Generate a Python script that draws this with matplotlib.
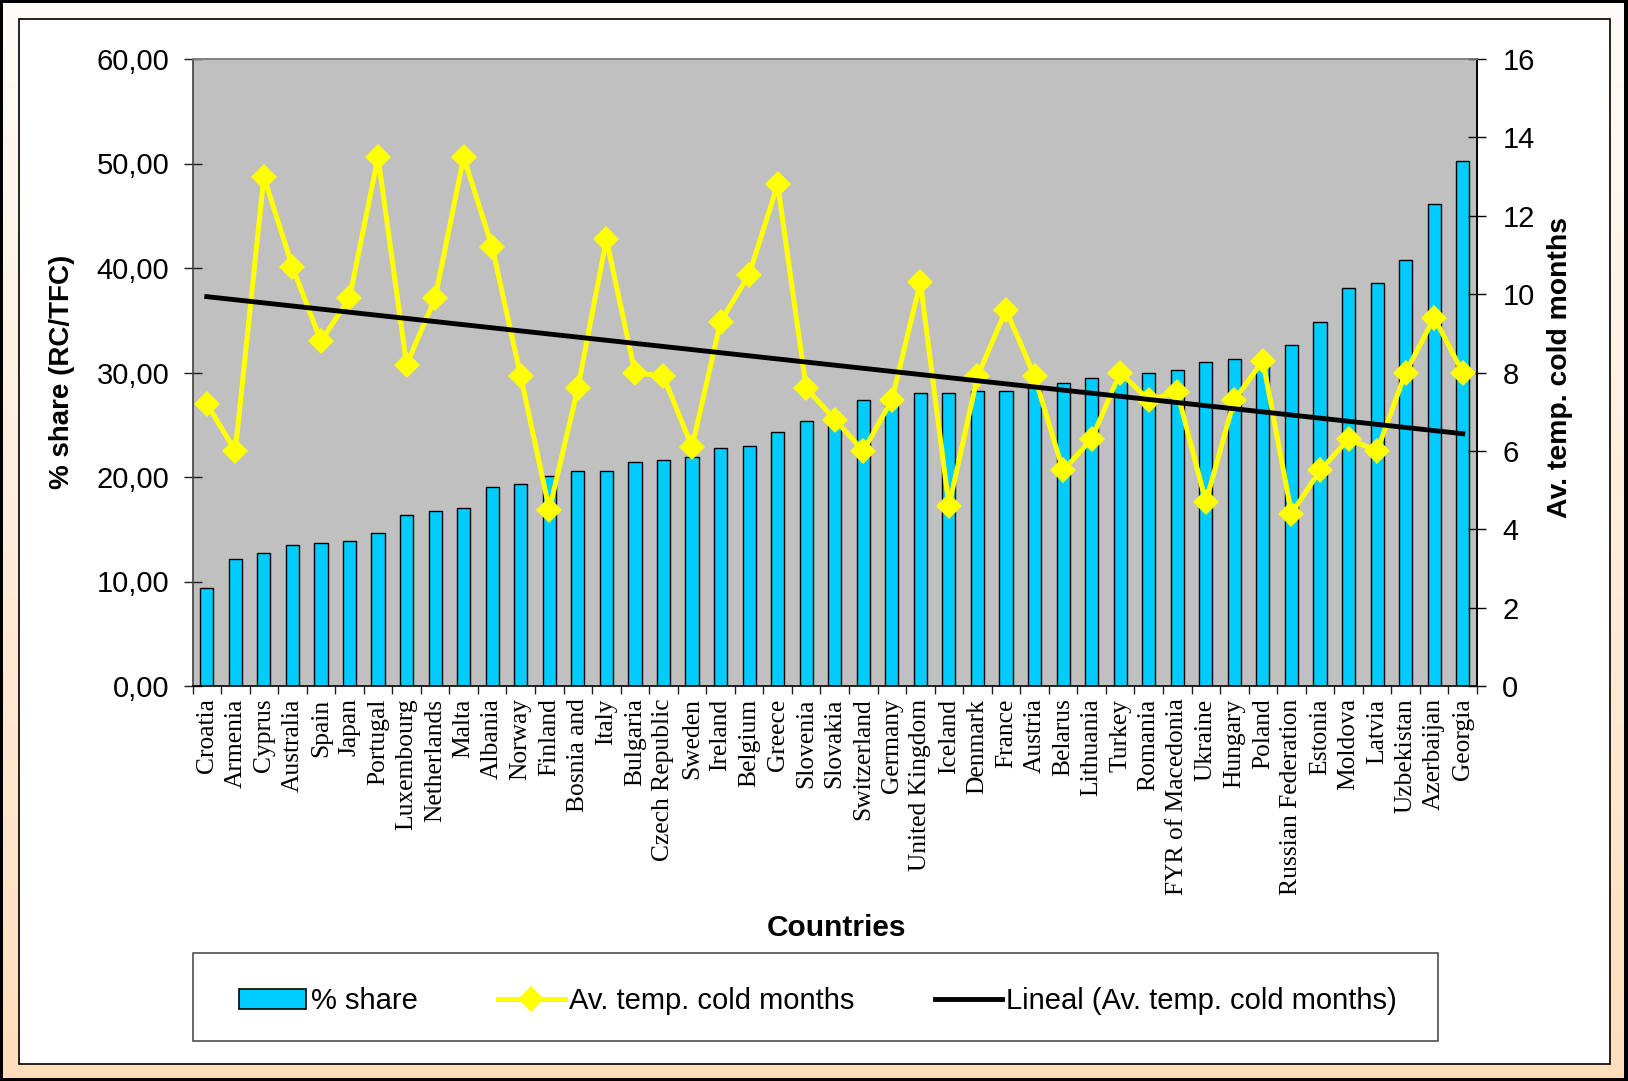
import numpy as np
import matplotlib
matplotlib.use("Agg")
import matplotlib.pyplot as plt
from matplotlib.patches import Rectangle, Patch
from matplotlib.lines import Line2D
from matplotlib.ticker import FuncFormatter

plt.rcParams['font.family'] = ['Liberation Sans', 'DejaVu Sans']

countries = ["Croatia", "Armenia", "Cyprus", "Australia", "Spain", "Japan", "Portugal",
             "Luxembourg", "Netherlands", "Malta", "Albania", "Norway", "Finland",
             "Bosnia and", "Italy", "Bulgaria", "Czech Republic", "Sweden", "Ireland",
             "Belgium", "Greece", "Slovenia", "Slovakia", "Switzerland", "Germany",
             "United Kingdom", "Iceland", "Denmark", "France", "Austria", "Belarus",
             "Lithuania", "Turkey", "Romania", "FYR of Macedonia", "Ukraine", "Hungary",
             "Poland", "Russian Federation", "Estonia", "Moldova", "Latvia", "Uzbekistan",
             "Azerbaijan", "Georgia"]

# residential consumption share of total final consumption (%)
share = [9.35, 12.2, 12.7, 13.5, 13.7, 13.9, 14.6,
         16.4, 16.7, 17.0, 19.0, 19.3, 20.1,
         20.6, 20.6, 21.4, 21.6, 21.9, 22.8,
         23.0, 24.3, 25.4, 26.0, 27.4, 27.8,
         28.0, 28.0, 28.2, 28.2, 28.6, 29.0,
         29.5, 29.8, 30.0, 30.2, 31.0, 31.3,
         31.6, 32.6, 34.8, 38.1, 38.6, 40.8,
         46.1, 50.2]

# average temperature of the cold months
temp = [7.2, 6.0, 13.0, 10.7, 8.8, 9.9, 13.5,
        8.2, 9.9, 13.5, 11.2, 7.9, 4.5,
        7.6, 11.4, 8.0, 7.9, 6.1, 9.3,
        10.5, 12.8, 7.6, 6.8, 6.0, 7.3,
        10.3, 4.6, 7.9, 9.6, 7.9, 5.5,
        6.3, 8.0, 7.3, 7.5, 4.7, 7.3,
        8.3, 4.4, 5.5, 6.3, 6.0, 8.0,
        9.4, 8.0]

share_ticks = [0, 10, 20, 30, 40, 50, 60]
temp_ticks = [0, 2, 4, 6, 8, 10, 12, 14, 16]

W, H = 1628, 1081
fig = plt.figure(figsize=(W / 100, H / 100), dpi=100)

# ---- frame: black border, peach gradient band, inner white panel ----
bg = fig.add_axes([0, 0, 1, 1], zorder=-10)
bg.set_axis_off()
bg.add_patch(Rectangle((0, 0), W, H, color='black', zorder=0))
g = np.linspace(0, 1, 256)[:, None, None]
top_c = np.array([1.0, 0.985, 0.97])
bot_c = np.array([1.0, 0.87, 0.74])
grad = top_c + (bot_c - top_c) * g
bg.imshow(grad, extent=(3, W - 4, H - 3, 3), aspect='auto', interpolation='bilinear',
          zorder=1)
bg.add_patch(Rectangle((18.5, 18.5), 1610 - 18.5, 1064 - 18.5,
                       facecolor='white', edgecolor='black', linewidth=1.2, zorder=2))
# legend box
bg.add_patch(Rectangle((192.5, 953), 1438 - 192.5, 1041 - 953,
                       facecolor='white', edgecolor='#404040', linewidth=1.1, zorder=3))
bg.set_xlim(0, W)
bg.set_ylim(H, 0)

# ---- main axes ----
L, R, T, B = 192.5, 1477, 59, 686
ax = fig.add_axes([L / W, 1 - B / H, (R - L) / W, (B - T) / H])
ax.set_facecolor('#C0C0C0')
x = np.arange(len(countries))
ax.bar(x, share, width=0.46, color='#00CCFF', edgecolor='black', linewidth=1.0, zorder=2)
ax.set_xlim(-0.5, len(countries) - 0.5)
ax.set_ylim(share_ticks[0], share_ticks[-1])
ax.set_yticks(share_ticks)
ax.yaxis.set_major_formatter(FuncFormatter(lambda v, _: f"{v:.2f}".replace('.', ',')))
ax.tick_params(axis='y', direction='inout', length=13.5, width=1.0, pad=10,
               labelsize=21, color='#202020')

ax.set_xticks(x)
ax.set_xticklabels(countries, rotation=90, fontfamily=['Liberation Serif', 'DejaVu Serif'],
                   fontsize=18.4, va='top', ha='center')
ax.tick_params(axis='x', which='major', length=0, pad=9)
ax.set_xticks(np.arange(-0.5, len(countries), 1), minor=True)
ax.tick_params(axis='x', which='minor', direction='out', length=6, width=1.0, color='#202020')

for side in ['left', 'right', 'bottom', 'top']:
    ax.spines[side].set_linewidth(1.2)
ax.spines['top'].set_color('#808080')
ax.spines['left'].set_color('#404040')
ax.spines['bottom'].set_color('black')

# ---- secondary axis: temperatures and their linear trend ----
ax2 = ax.twinx()
ax2.plot(x, temp, color='#FFFF00', linewidth=3.6, marker='D', markersize=13,
         markeredgewidth=0, zorder=3)
coef = np.polyfit(x, temp, 1)
ax2.plot(x, np.polyval(coef, x), color='black', linewidth=3.5, zorder=4)
ax2.set_ylim(temp_ticks[0], temp_ticks[-1])
ax2.set_yticks(temp_ticks)
ax2.tick_params(axis='y', direction='inout', length=13.5, width=1.0, pad=11.5,
                labelsize=21, color='black')
ax2.spines['right'].set_color('black')
ax2.spines['right'].set_linewidth(1.2)
ax2.spines['top'].set_color('#808080')
ax2.spines['top'].set_linewidth(1.2)
ax2.spines['left'].set_visible(False)
ax2.spines['bottom'].set_visible(False)

# ---- axis titles ----
fig.text(62 / W, 1 - 372 / H, "% share (RC/TFC)", rotation=90, ha='center', va='center',
         fontsize=20, fontweight='bold')
fig.text(1560 / W, 1 - 367 / H, "Av. temp. cold months", rotation=90, ha='center',
         va='center', fontsize=20.4, fontweight='bold')
fig.text(836 / W, 1 - 928 / H, "Countries", ha='center', va='center',
         fontsize=21.5, fontweight='bold')

# ---- legend ----
handles = [Patch(facecolor='#00CCFF', edgecolor='black', linewidth=1.2),
           Line2D([], [], color='#FFFF00', linewidth=3.6, marker='D', markersize=13,
                  markeredgewidth=0),
           Line2D([], [], color='black', linewidth=3.5)]
labels = ["% share", "Av. temp. cold months", "Lineal (Av. temp. cold months)"]
fig.legend(handles, labels, loc='center', bbox_to_anchor=(818 / W, 1 - 1001 / H),
           ncol=3, frameon=False, handlelength=2.3, handletextpad=0.15,
           columnspacing=2.75, fontsize=21, borderpad=0)

fig.savefig("out.png", dpi=100)
